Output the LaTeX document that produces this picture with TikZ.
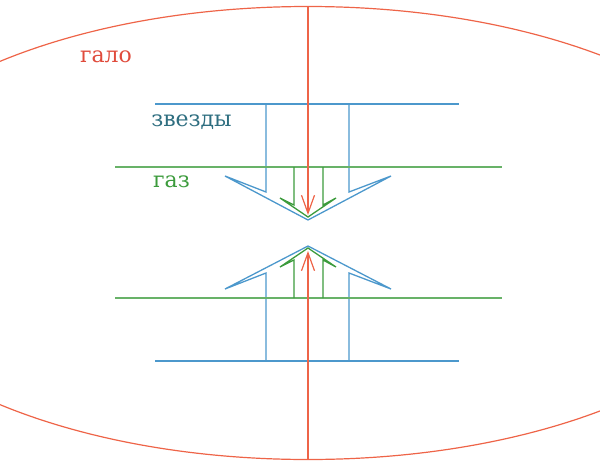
\documentclass[tikz,border=0pt]{standalone}
\usepackage{fontspec}
\setmainfont{DejaVu Serif}
\usetikzlibrary{arrows.meta}
\definecolor{halored}{RGB}{238,100,72}
\definecolor{halotext}{RGB}{224,75,60}
\definecolor{starblue}{RGB}{76,152,204}
\definecolor{startext}{RGB}{46,110,128}
\definecolor{gasline}{RGB}{104,178,104}
\definecolor{gasarrow}{RGB}{60,155,60}
\definecolor{gastext}{RGB}{60,155,60}
\tikzset{
  halo/.style={draw=halored, line width=1.2pt},
  stars/.style={draw=starblue, line width=1.3pt, line join=miter},
  gas/.style={draw=gasline, line width=1.3pt},
  gasflow/.style={draw=gasarrow, line width=1.3pt, line join=miter},
  flow/.style={draw=halored, line width=1.2pt, -{Straight Barb[length=18pt,width=13pt,line width=1.2pt]}},
  lbl/.style={inner sep=0pt, anchor=base, font=\fontsize{22}{26}\selectfont}
}
\begin{document}
\begin{tikzpicture}[x=1pt,y=-1pt]
\useasboundingbox (0,0) rectangle (600,461);
\begin{scope}
\clip (0,0) rectangle (600,461);
\draw[halo] (308,233) ellipse [x radius=472, y radius=226.5];
\end{scope}
% stars
\draw[stars] (155,104) -- (459,104);
\draw[stars] (155,361) -- (459,361);
\draw[stars] (266,104) -- (266,192) -- (225,176) -- (308,220) -- (391,176) -- (349,192) -- (349,104);
\draw[stars] (266,361) -- (266,273) -- (225,289) -- (308,246) -- (391,289) -- (349,273) -- (349,361);
% gas
\draw[gas] (115,167) -- (502,167);
\draw[gas] (115,298) -- (502,298);
\draw[gasflow] (294,167) -- (294,205) -- (280,198) -- (308,217) -- (336,198) -- (323,205) -- (323,167);
\draw[gasflow] (294,298) -- (294,260) -- (280,267) -- (308,248) -- (336,267) -- (323,260) -- (323,298);
% halo flow
\coordinate (htop) at (308,7);
\coordinate (hin1) at (308,215);
\coordinate (hbot) at (308,459);
\coordinate (hin2) at (308,251);
\draw[flow] (htop) -- (hin1);
\draw[flow] (hbot) -- (hin2);
% labels
\node[lbl, text=halotext] (halo) at (106,62) {гало};
\node[lbl, text=startext] (stars) at (191.5,126.5) {звезды};
\node[lbl, text=gastext] (gas) at (171.5,187) {газ};
\end{tikzpicture}
\end{document}
